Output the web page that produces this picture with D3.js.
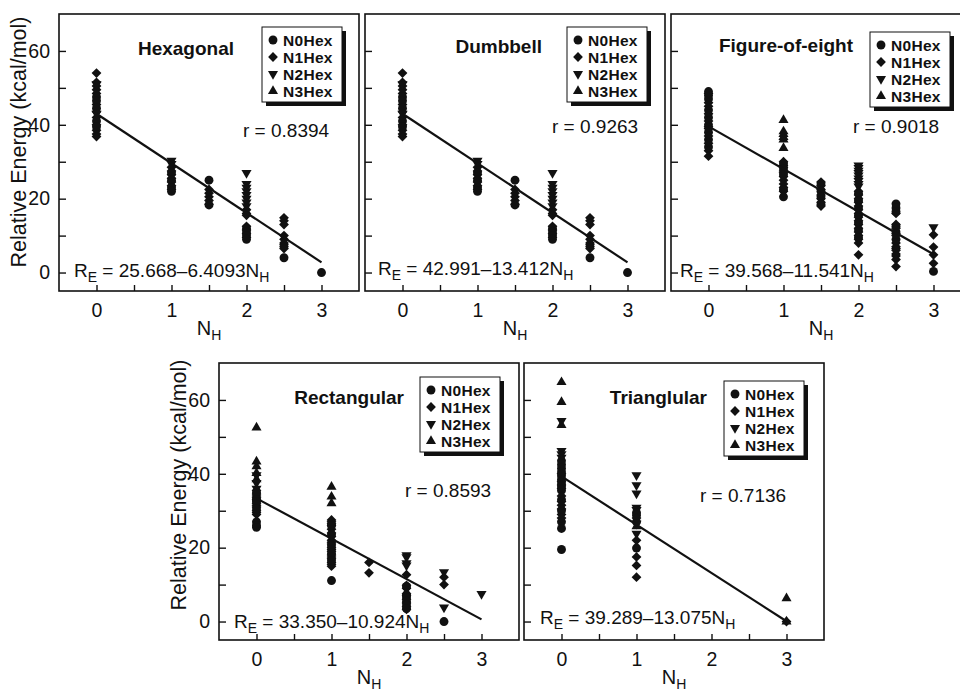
<!DOCTYPE html>
<html>
<head>
<meta charset="utf-8">
<script src="https://cdn.jsdelivr.net/npm/d3@7"></script>
<style>
    body { margin: 0; background: #fff; }
    text { font-family: "Liberation Sans", Arial, Helvetica, sans-serif; fill: #111; }
</style>
</head>
<body>
<div id="svganchor"></div>
<script>
let width = 960, height = 691;

// ---- data ----
let panelTitles = ["Hexagonal", "Dumbbell", "Figure-of-eight", "Rectangular", "Trianglular"];
let seriesNames = ["N0Hex", "N1Hex", "N2Hex", "N3Hex"];
let rValues = ["0.8394", "0.9263", "0.9018", "0.8593", "0.7136"];
let eqIntercepts = ["25.668", "42.991", "39.568", "33.350", "39.289"];
let eqSlopes = ["6.4093", "13.412", "11.541", "10.924", "13.075"];
// fitted lines as drawn in the picture (panel 1 draws the same line as panel 2)
let lineIntercepts = [42.99, 42.991, 39.568, 33.350, 39.289];
let lineSlopes = [-13.41, -13.412, -11.541, -10.924, -13.075];
let xTicks = [0, 0.5, 1, 1.5, 2, 2.5, 3];
let yTicks = [0, 10, 20, 30, 40, 50, 60];

// [N_H, series index, relative energies]
let hexagonalPoints = [
    [0, 1, [54, 51.5, 50.5, 49.5, 48.5, 45.5, 43.5, 42, 40, 38.5, 37.5, 36.8]],
    [0, 0, [47.5, 46.5, 44.5, 41, 39.5]],
    [0, 2, [51, 43]],
    [1, 2, [30.3, 29.4]],
    [1, 1, [28.5, 27.5, 26.5, 25.5, 24.5, 23.5, 22.5]],
    [1, 0, [27, 25, 23, 22]],
    [1.5, 0, [25, 18.3]],
    [1.5, 1, [22.5, 21.5, 20.5, 19.5, 18.5]],
    [2, 2, [27, 24, 23, 22, 21, 20, 19, 18]],
    [2, 1, [17, 16, 15.5, 12.5, 11.5, 10.5, 9.5]],
    [2, 0, [12, 11, 10, 9]],
    [2.5, 1, [14.8, 14, 13, 10, 9, 8, 7.5, 7, 6.5]],
    [2.5, 0, [4]],
    [3, 0, [0]]
];

let dumbbellPoints = [
    [0, 1, [54, 51.5, 50.5, 49.5, 48.5, 45.5, 43.5, 42, 40, 38.5, 37.5, 36.8]],
    [0, 0, [47.5, 46.5, 44.5, 41, 39.5]],
    [0, 2, [51, 43]],
    [1, 2, [30.3, 29.4]],
    [1, 1, [28.5, 27.5, 26.5, 25.5, 24.5, 23.5, 22.5]],
    [1, 0, [27, 25, 23, 22]],
    [1.5, 0, [25, 18.3]],
    [1.5, 1, [22.5, 21.5, 20.5, 19.5, 18.5]],
    [2, 2, [27, 24, 23, 22, 21, 20, 19, 18]],
    [2, 1, [17, 16, 15.5, 12.5, 11.5, 10.5, 9.5]],
    [2, 0, [12, 11, 10, 9]],
    [2.5, 1, [14.8, 14, 13, 10, 9, 8, 7.5, 7, 6.5]],
    [2.5, 0, [4]],
    [3, 0, [0]]
];

let figureEightPoints = [
    [0, 0, [49, 48, 47, 44, 42, 40, 38, 36, 34]],
    [0, 1, [48.5, 46, 45, 43, 41, 39.5, 39, 37, 35, 33, 31.5]],
    [1, 3, [41.3, 38.2, 37.5, 36.7, 36, 33.7]],
    [1, 1, [30, 29, 28.5, 27.5, 27, 26, 25, 24, 23, 22]],
    [1, 0, [29.5, 28, 26.5, 22.5, 20.5]],
    [1.5, 1, [24.5, 23.5, 22.5, 21, 20, 19, 18]],
    [1.5, 0, [24, 22, 20.5, 18.5]],
    [2, 2, [29, 28.3, 27.6, 27, 26.3, 25.5, 24.8, 24, 23.3]],
    [2, 1, [22, 21, 20, 19, 18, 17, 16, 15, 14, 13, 12, 11, 10, 9, 8, 4.8]],
    [2, 0, [21.5, 19.5, 17.5, 15.5, 13.5, 11.5, 9.5]],
    [2.5, 0, [18.6, 17.5, 16.5, 12.5, 11, 9]],
    [2.5, 1, [16, 13, 12, 10.5, 10, 8, 7, 6.5, 6, 5, 4.5, 3.5, 1.6]],
    [3, 2, [12.3]],
    [3, 1, [10.2, 6.9, 4.8, 2.5]],
    [3, 0, [0.3]]
];

let rectangularPoints = [
    [0, 3, [52.5, 43.3, 42, 40.2, 38.5]],
    [0, 2, [39.6, 37.5, 36]],
    [0, 1, [35.5, 34.5, 34, 33.5, 33, 32, 31.5, 31, 30, 29.5, 29]],
    [0, 0, [35, 33, 32.5, 30.5, 27, 26, 25.5]],
    [1, 3, [36.5, 33.8, 32]],
    [1, 1, [27.5, 27, 26.5, 26, 25, 24, 23, 22, 21.5, 21, 20, 19.5, 19, 18, 17.5, 17, 16, 15.5, 15]],
    [1, 0, [26, 23.5, 20.5, 18.5, 16.5, 11.1]],
    [1.5, 1, [16, 13.2]],
    [2, 2, [18, 17.4, 15.8, 15.2]],
    [2, 1, [12.7, 9.8, 9, 7.5, 7, 6, 5, 4, 3.3]],
    [2, 0, [9.5, 7.2, 6.5, 5.5, 4.5, 3.5]],
    [2.5, 2, [13.4, 3.8]],
    [2.5, 1, [12, 10]],
    [2.5, 0, [0]],
    [3, 2, [7.5]]
];

let triangularPoints = [
    [0, 3, [64.8, 59.4, 53.2]],
    [0, 2, [54.3, 46.2, 45.3, 44.4]],
    [0, 0, [43.5, 42.5, 41.5, 40.5, 39.5, 38.5, 37.5, 36.5, 35.5, 33, 30, 27, 25.2, 19.5]],
    [0, 1, [40, 38, 37, 36, 34, 32.5, 31.5, 30.5, 29, 28]],
    [1, 2, [39.6, 36.9, 34.7, 30.8, 30.2, 26.5, 23.8]],
    [1, 3, [25.8]],
    [1, 0, [29.5, 28.8, 27, 19.9]],
    [1, 1, [28, 22, 17.5, 15.2, 12]],
    [3, 3, [6.3, 0]],
    [3, 1, [0]]
];

let panelPoints = [hexagonalPoints, dumbbellPoints, figureEightPoints, rectangularPoints, triangularPoints];

// ---- layout ----
let panelW = 300, panelH = 277;
let panelLeft = [59, 365, 671, 219, 524];
let panelTop = [14, 14, 14, 363, 363];
let showYLabels = [true, false, false, true, false];
let titleX = [175, 177, 182, 185, 183];
let titleY = [41, 39, 38, 41, 41];
let legendX = [203, 202, 199, 201, 200];
let legendY = [13, 13, 18, 14, 18];
let rX = [184, 187, 182, 186, 176];
let rY = [123, 119, 119, 134, 139];
let eqX = [15, 13, 9, 15, 16];
let eqY = [263, 261, 263, 265, 261];
let yTitleY = [128, 0, 0, 122, 0];

let ink = "#111";

let xScale = d3.scaleLinear().domain([-0.5, 3.5]).range([0, panelW]);
let yScale = d3.scaleLinear().domain([-5, 70]).range([panelH, 0]);

let symbolTypes = [d3.symbolCircle, d3.symbolSquare, d3.symbolTriangle, d3.symbolTriangle];
let symbolSizes = [62, 48, 44, 44];
let symbolRotate = [0, 45, 180, 0];

function marker(sel, type) {
    sel.attr("d", d3.symbol(symbolTypes[type], symbolSizes[type])())
        .attr("fill", ink);
}

let svg = d3.select("#svganchor")
    .append("svg")
    .attr("width", width)
    .attr("height", height);

function drawPanel(i) {
    let g = svg.append("g")
        .attr("transform", `translate(${panelLeft[i]},${panelTop[i]})`);

    let points = [];
    panelPoints[i].forEach(function(grp) {
        grp[2].forEach(function(v) {
            points.push({nh: grp[0], type: grp[1], energy: v});
        });
    });

    // axes (ticks point inward)
    let yAxis = d3.axisLeft(yScale)
        .tickValues(yTicks)
        .tickSize(-7)
        .tickPadding(9)
        .tickFormat(d => (showYLabels[i] && d % 20 === 0) ? d : "");

    let xAxis = d3.axisBottom(xScale)
        .tickValues(xTicks)
        .tickSize(-6)
        .tickPadding(12)
        .tickFormat(d => Number.isInteger(d) ? d : "");

    let gY = g.append("g")
        .attr("class", "y axis")
        .style("color", ink)
        .call(yAxis);
    gY.select(".domain").remove();

    let gX = g.append("g")
        .attr("class", "x axis")
        .attr("transform", `translate(0,${panelH})`)
        .style("color", ink)
        .call(xAxis);
    gX.select(".domain").remove();

    g.selectAll(".axis line").attr("stroke-width", 1.4);
    g.selectAll(".axis text")
        .attr("font-family", "Liberation Sans, Arial, sans-serif")
        .attr("font-size", 19.5)
        .attr("fill", ink);

    g.append("rect")
        .attr("x", 0)
        .attr("y", 0)
        .attr("width", panelW)
        .attr("height", panelH)
        .attr("fill", "none")
        .attr("stroke", ink)
        .attr("stroke-width", 1.6);

    // markers
    g.selectAll(".pt")
        .data(points)
        .enter()
        .append("path")
        .attr("class", "pt")
        .attr("transform", d => `translate(${xScale(d.nh)},${yScale(d.energy)}) rotate(${symbolRotate[d.type]})`)
        .each(function(d) { marker(d3.select(this), d.type); });

    // fitted line
    g.append("line")
        .attr("x1", xScale(0))
        .attr("y1", yScale(lineIntercepts[i]))
        .attr("x2", xScale(3))
        .attr("y2", yScale(lineIntercepts[i] + lineSlopes[i] * 3))
        .attr("stroke", ink)
        .attr("stroke-width", 2.2);

    // title
    g.append("text")
        .attr("x", titleX[i])
        .attr("y", titleY[i])
        .attr("text-anchor", "end")
        .attr("font-size", 19)
        .attr("font-weight", "bold")
        .text(panelTitles[i]);

    // legend with drop shadow
    let rowGap = 17;
    let lg = g.append("g")
        .attr("transform", `translate(${legendX[i]},${legendY[i]})`);
    lg.append("rect")
        .attr("x", 4).attr("y", 4)
        .attr("width", 80).attr("height", 75)
        .attr("fill", ink);
    lg.append("rect")
        .attr("x", 0).attr("y", 0)
        .attr("width", 80).attr("height", 75)
        .attr("fill", "#fff")
        .attr("stroke", ink)
        .attr("stroke-width", 1);
    seriesNames.forEach(function(name, k) {
        lg.append("path")
            .attr("transform", `translate(11,${13 + k * rowGap}) rotate(${symbolRotate[k]})`)
            .call(marker, k);
        lg.append("text")
            .attr("x", 21)
            .attr("y", 13 + k * rowGap + 5.5)
            .attr("font-size", 15.5)
            .attr("font-weight", "bold")
            .attr("letter-spacing", 0.3)
            .text(name);
    });

    // correlation
    g.append("text")
        .attr("x", rX[i])
        .attr("y", rY[i])
        .attr("font-size", 19)
        .text("r = " + rValues[i]);

    // equation
    let eq = g.append("text")
        .attr("x", eqX[i])
        .attr("y", eqY[i])
        .attr("font-size", 19);
    eq.append("tspan").text("R");
    eq.append("tspan").attr("dy", 5).attr("font-size", 14).text("E");
    eq.append("tspan").attr("dy", -5).text(" = " + eqIntercepts[i] + "\u2013" + eqSlopes[i] + "N");
    eq.append("tspan").attr("dy", 5).attr("font-size", 14).text("H");

    // x title
    let xt = g.append("text")
        .attr("x", panelW / 2)
        .attr("y", panelH + 44)
        .attr("text-anchor", "middle")
        .attr("font-size", 20);
    xt.append("tspan").text("N");
    xt.append("tspan").attr("dy", 5).attr("font-size", 14).text("H");

    // y title
    if (showYLabels[i]) {
        g.append("text")
            .attr("transform", `translate(-33,${yTitleY[i]}) rotate(-90)`)
            .attr("text-anchor", "middle")
            .attr("font-size", 21.5)
            .text("Relative Energy (kcal/mol)");
    }
}

for (let i = 0; i < panelTitles.length; i++) {
    drawPanel(i);
}
</script>
</body>
</html>
